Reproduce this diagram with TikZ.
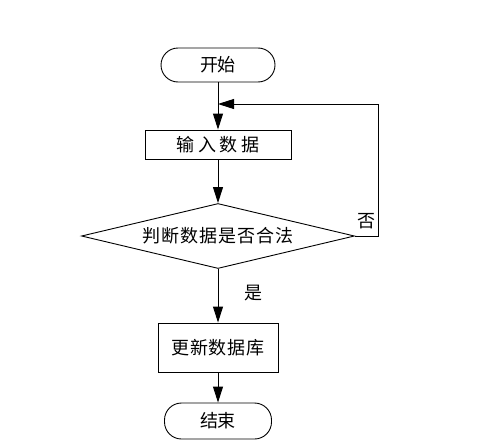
\documentclass[tikz,border=0pt]{standalone}
\usepackage{fontspec}
\setmainfont{Noto Sans CJK SC}
\usetikzlibrary{shapes.geometric,arrows.meta}

% font size and letter spacing of a flowchart text
\newcommand{\flowfont}[1]{\fontsize{18pt}{21pt}\selectfont\addfontfeature{LetterSpace=#1}}

\tikzset{
  term/.style={draw, rounded corners=17pt, minimum width=114pt, minimum height=34pt, inner sep=0pt},
  proc/.style={draw, rectangle, minimum width=146pt, minimum height=29pt, inner sep=0pt},
  check/.style={draw, diamond, aspect=4.2, minimum width=273pt, minimum height=65pt, inner sep=0pt}
}

\begin{document}
\begin{tikzpicture}[x=1pt, y=-1pt, ->, >={Triangle[length=16pt,width=10pt]}, line width=0.9pt]
  \useasboundingbox (0,0) rectangle (484,447);

  \node[term, font=\flowfont{-3}] (start) at (218,65) {开始};
  \node[proc, below of=start, node distance=79.5pt, font=\flowfont{22}] (input) {输入数据};
  \node[check, below of=input, node distance=91.5pt, font=\flowfont{6}] (check) {判断数据是否合法};
  \node[proc, below of=check, node distance=111.5pt, minimum width=120pt, minimum height=49pt, font=\flowfont{4}] (update) {更新数据库};
  \node[term, below of=update, node distance=73.5pt, minimum width=107pt, minimum height=36pt, font=\flowfont{-3}] (stop) {结束};

  \coordinate (back) at (378,104);

  \draw (start) -- (input);
  \draw (input) -- (check);
  \draw (check) -- (update);
  \draw (update) -- (stop);
  \draw (check.east) -| (back) -- (start.south |- back);

  \node[font=\flowfont{0}] (no) at ([xshift=12pt, yshift=15pt]check.east) {否};
  \node[font=\flowfont{0}] (yes) at ([xshift=35pt, yshift=-24pt]check.south) {是};
\end{tikzpicture}
\end{document}
